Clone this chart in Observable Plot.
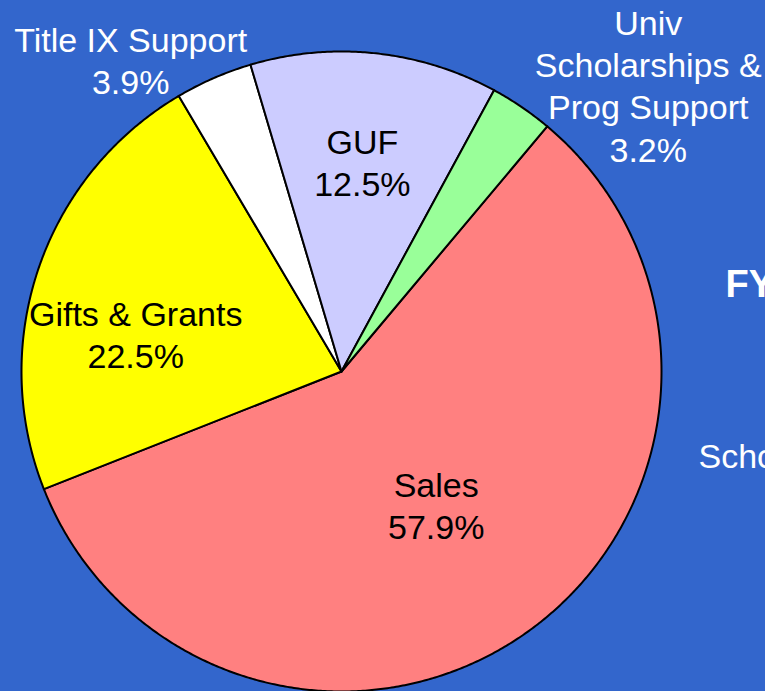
<!DOCTYPE html>
<html>
<head>
<meta charset="utf-8">
<script src="https://cdn.jsdelivr.net/npm/d3@7"></script>
<script src="https://cdn.jsdelivr.net/npm/@observablehq/plot@0.6"></script>
<style>
  html, body { margin: 0; padding: 0; background: #3366CC; overflow: hidden; }
  #chart svg { display: block; }
</style>
</head>
<body>
<div id="chart"></div>
<script>
// ---- data ----
const categories = ["Sales", "Gifts & Grants", "Title IX Support", "GUF", "Univ Scholarships & Prog Support"];
const labelTexts = ["Sales", "Gifts & Grants", "Title IX Support", "GUF", "Univ\nScholarships &\nProg Support"];
const shares = [57.9, 22.5, 3.9, 12.5, 3.2];
const sliceColors = ["#FF8080", "#FFFF00", "#FFFFFF", "#CCCCFF", "#99FF99"];

// ---- layout ----
const W = 765, H = 691;
const cx = 341, cy = 371, R = 320;
const deg = Math.PI / 180;
// label placement (polar, relative to slice mid angle): [angle nudge deg, radius fraction, inside?]
const labelLayout = [
  [0.3, 0.51, true],
  [-8.5, 0.654, true],
  [-10.5, 1.177, false],
  [-0.3, 0.66, true],
  [12.7, 1.312, false]
];

const pie = d3.pie().sort(null).value(d => d.value).startAngle(40 * deg).endAngle(40 * deg + 2 * Math.PI);
const rows = categories.map((name, i) => ({name, value: shares[i], label: labelTexts[i]}));
const arcs = pie(rows);

const pts = [];
arcs.forEach(a => {
  pts.push({name: a.data.name, x: 0, y: 0});
  const n = Math.max(2, Math.ceil((a.endAngle - a.startAngle) / (0.4 * deg)));
  for (let k = 0; k <= n; k++) {
    const t = a.startAngle + (a.endAngle - a.startAngle) * k / n;
    pts.push({name: a.data.name, x: Math.sin(t), y: Math.cos(t)});
  }
});

const labels = arcs.map((a, i) => {
  const [nudge, rf, inside] = labelLayout[i];
  const t = (a.startAngle + a.endAngle) / 2 + nudge * deg;
  return {
    x: rf * Math.sin(t), y: rf * Math.cos(t),
    text: a.data.label + "\n" + a.data.value.toFixed(1) + "%",
    inside
  };
});

const font = "'Liberation Sans', Arial, Helvetica, sans-serif";

const chart = Plot.plot({
  width: W, height: H,
  margin: 0,
  style: {background: "#3366CC", fontFamily: font},
  x: {domain: [-cx / R, (W - cx) / R], range: [0, W], axis: null},
  y: {domain: [-(H - cy) / R, cy / R], range: [H, 0], axis: null},
  color: {type: "ordinal", domain: categories, range: sliceColors},
  marks: [
    Plot.line(pts, {x: "x", y: "y", z: "name", fill: "name", stroke: "black", strokeWidth: 2, strokeLinejoin: "round", curve: "linear-closed"}),
    Plot.text(labels, {x: "x", y: "y", text: "text", fill: d => d.inside ? "black" : "white", fontSize: 34, lineHeight: 1.24, textAnchor: "middle", fontFamily: font}),
    Plot.text(["FY"], {frameAnchor: "top-left", dx: 725, dy: 270, fill: "white", fontSize: 38, fontWeight: "bold", textAnchor: "start", fontFamily: font}),
    Plot.text(["Scho"], {frameAnchor: "top-left", dx: 698, dy: 443, fill: "white", fontSize: 34, textAnchor: "start", fontFamily: font})
  ]
});
document.getElementById("chart").appendChild(chart);
</script>
</body>
</html>
